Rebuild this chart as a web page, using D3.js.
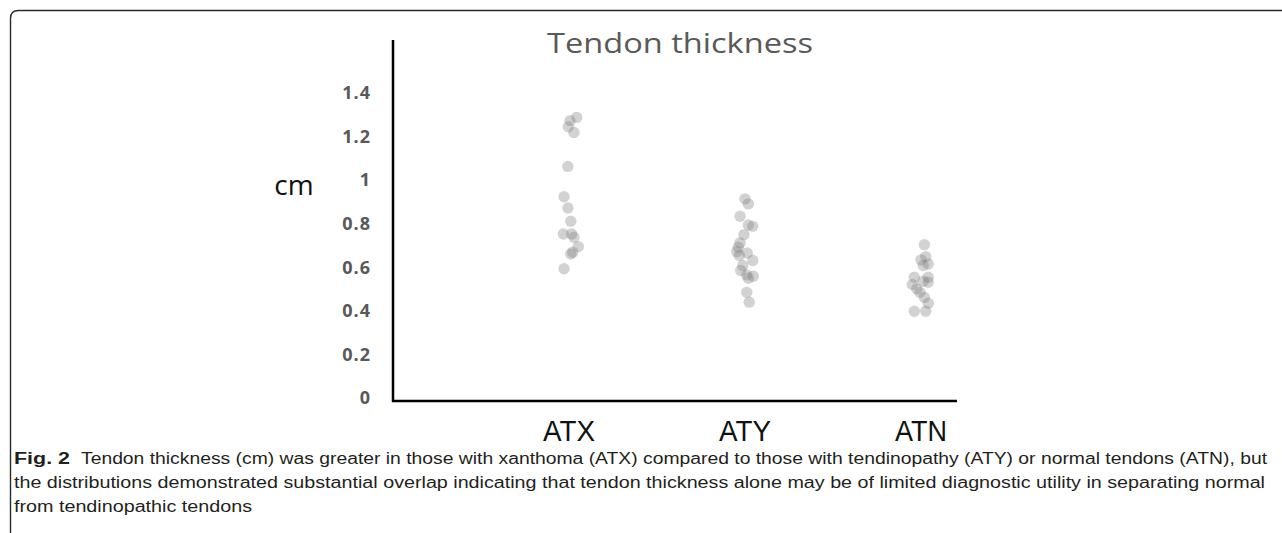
<!DOCTYPE html>
<html>
<head>
<meta charset="utf-8">
<script src="https://cdn.jsdelivr.net/npm/d3@7"></script>
<style>
  html, body { margin: 0; padding: 0; background: #fff; }
  svg { display: block; }
</style>
</head>
<body>
<svg id="chart" width="1282" height="533"></svg>
<script>
// ---- data ----
const title = "Tendon thickness";
const yLabel = "cm";
const categories = ["ATX", "ATY", "ATN"];
const yTicks = [0, 0.2, 0.4, 0.6, 0.8, 1, 1.2, 1.4];

const atxValues = [1.288, 1.273, 1.245, 1.219, 1.063, 0.924, 0.872, 0.811, 0.753, 0.753, 0.738, 0.695, 0.661, 0.669, 0.593];
const atxJitter = [0.044, 0.006, -0.004, 0.028, -0.007, -0.028, -0.006, 0.010, -0.032, 0.015, 0.028, 0.053, 0.010, 0.021, -0.028];

const atyValues = [0.914, 0.891, 0.834, 0.794, 0.788, 0.750, 0.712, 0.692, 0.672, 0.666, 0.654, 0.631, 0.608, 0.585, 0.565, 0.559, 0.550, 0.485, 0.440];
const atyJitter = [0, 0.019, -0.028, 0.019, 0.044, -0.006, -0.028, -0.038, -0.047, 0.013, -0.032, 0.044, -0.013, -0.024, 0.010, 0.047, 0.019, 0.010, 0.024];

const atnValues = [0.704, 0.649, 0.634, 0.615, 0.608, 0.554, 0.554, 0.536, 0.521, 0.531, 0.501, 0.485, 0.462, 0.435, 0.398, 0.398];
const atnJitter = [0.019, 0.027, 0, 0.041, 0.013, -0.038, 0.041, 0.013, -0.049, 0.041, -0.024, -0.006, 0.019, 0.041, -0.038, 0.027];

const captionBold = "Fig. 2";
const captionLines = [
  "Tendon thickness (cm) was greater in those with xanthoma (ATX) compared to those with tendinopathy (ATY) or normal tendons (ATN), but",
  "the distributions demonstrated substantial overlap indicating that tendon thickness alone may be of limited diagnostic utility in separating normal",
  "from tendinopathic tendons"
];

// ---- build ----
const svg = d3.select("#chart");

const points = [];
[[atxValues, atxJitter], [atyValues, atyJitter], [atnValues, atnJitter]].forEach(([vals, jit], ci) => {
  vals.forEach((v, i) => points.push({ cat: ci, value: v, jitter: jit[i] }));
});

const x = d3.scaleLinear().domain([0, categories.length - 1]).range([569, 921]);
const y = d3.scaleLinear().domain([0, 1.4]).range([398, 93]);

// frame (rounded top-left corner, open to right/bottom)
const fx = 10.5, fy = 10.5, fr = 8;
svg.append("path")
  .attr("d", `M${fx},533 L${fx},${fy + fr} Q${fx},${fy} ${fx + fr},${fy} L1282,${fy}`)
  .attr("fill", "none").attr("stroke", "#2b2b2b").attr("stroke-width", 1.4);

// title
svg.append("text")
  .attr("x", 680).attr("y", 53)
  .attr("text-anchor", "middle")
  .attr("font-family", "Open Sans").attr("font-size", 28)
  .attr("fill", "#595959")
  .attr("textLength", 266).attr("lengthAdjust", "spacingAndGlyphs")
  .text(title);

// y axis labels
const yAxis = d3.axisLeft(y).tickValues(yTicks).tickSize(0).tickPadding(0).tickFormat(d3.format("~g"));
const gy = svg.append("g").attr("transform", "translate(371,0)").call(yAxis);
gy.select(".domain").remove();
gy.selectAll("text")
  .attr("font-family", "Open Sans").attr("font-weight", "bold").attr("font-size", 18)
  .attr("letter-spacing", 1)
  .attr("fill", "#595959");

// axis lines
svg.append("line")
  .attr("x1", 393).attr("x2", 393).attr("y1", 40).attr("y2", y(0) + 4)
  .attr("stroke", "#000").attr("stroke-width", 2.5);
svg.append("line")
  .attr("x1", 392).attr("x2", 957).attr("y1", y(0) + 3).attr("y2", y(0) + 3)
  .attr("stroke", "#000").attr("stroke-width", 2.5);

// y label
svg.append("text")
  .attr("x", 294).attr("y", 195)
  .attr("text-anchor", "middle")
  .attr("font-family", "Open Sans").attr("font-size", 28)
  .attr("fill", "#111")
  .text(yLabel);

// category labels
svg.append("g").selectAll("text").data(categories).join("text")
  .attr("x", (d, i) => x(i)).attr("y", 441)
  .attr("text-anchor", "middle")
  .attr("font-family", "Liberation Sans").attr("font-size", 30)
  .attr("fill", "#111")
  .attr("textLength", 52).attr("lengthAdjust", "spacingAndGlyphs")
  .text(d => d);

// points
svg.append("g").selectAll("circle").data(points).join("circle")
  .attr("cx", d => x(d.cat + d.jitter))
  .attr("cy", d => y(d.value))
  .attr("r", 5.7)
  .attr("fill", "#7a7a7a")
  .attr("fill-opacity", 0.34);

// caption
const capX = 14, capY0 = 464, capDY = 24;
svg.append("text")
  .attr("x", capX).attr("y", capY0)
  .attr("font-family", "Liberation Sans").attr("font-weight", "bold").attr("font-size", 16)
  .attr("fill", "#231f20")
  .attr("textLength", 56).attr("lengthAdjust", "spacingAndGlyphs")
  .text(captionBold);
const capStarts = [81, capX, capX];
const capEnds = [1267, 1265, 252];
svg.append("g").selectAll("text").data(captionLines).join("text")
  .attr("x", (d, i) => capStarts[i]).attr("y", (d, i) => capY0 + i * capDY)
  .attr("font-family", "Liberation Sans").attr("font-size", 16)
  .attr("fill", "#231f20")
  .attr("textLength", (d, i) => capEnds[i] - capStarts[i]).attr("lengthAdjust", "spacingAndGlyphs")
  .text(d => d);
</script>
</body>
</html>
